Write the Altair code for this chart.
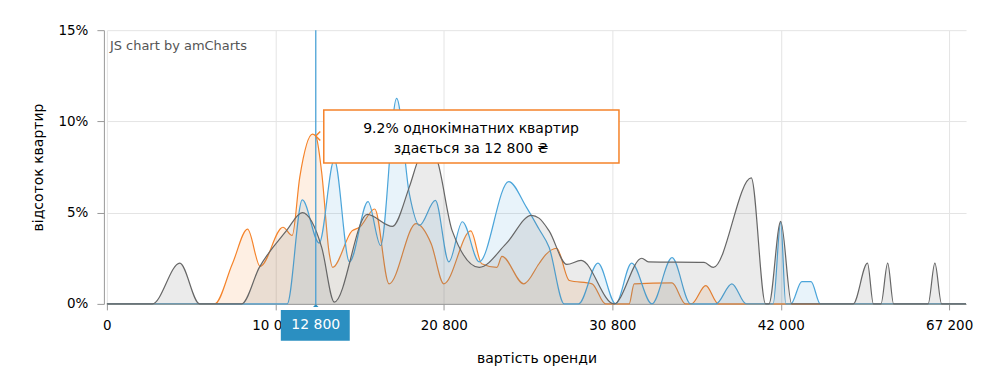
import altair as alt
import pandas as pd

# ---- data -------------------------------------------------------------
tick_pos = [0, 20, 40, 60, 80, 100]
tick_labels = ["0", "10 000", "20 800", "30 800", "42 000", "67 200"]

gray_bin = [0, 5.4, 8.65, 11.0, 16.0, 18.1, 21.3, 23.2, 25.5, 27.0, 30.9, 33.9, 35.9, 37.1, 38.3, 39.2,
            41.0, 44.2, 47.4, 50.4, 51.3, 52.5, 54.6, 56.3, 60.2, 63.5, 64.3, 70.9, 72.0, 76.5,
            78.2, 78.6, 80.0, 81.3, 88.6, 90.3, 91.0, 91.9, 92.7, 93.4, 97.5, 98.3, 99.1, 102]
gray_pct = [0, 0, 2.23, 0, 0, 2.0, 4.0, 5.0, 3.1, 0.1, 4.9, 4.25, 6.4, 8.05, 8.6, 7.9,
            4.0, 2.0, 3.3, 4.85, 4.7, 4.0, 2.16, 2.38, 0, 2.5, 2.3, 2.27, 2.0, 6.9,
            0, 0, 4.52, 0, 0, 2.23, 0, 0, 2.23, 0, 0, 2.23, 0, 0]

orange_bin = [0, 12.8, 14.9, 16.7, 18.2, 20.9, 22.0, 22.9, 24.4, 24.8, 25.5, 26.4, 26.8, 29.1, 30.0,
              31.8, 33.5, 36.7, 38.5, 40.0, 43.2, 44.5, 46.3, 46.9, 49.5, 51.3, 52.1, 53.4, 54.9,
              57.6, 59.2, 62.0, 62.6, 67.1, 68.7, 69.4, 71.1, 72.6, 102]
orange_pct = [0, 0, 2.2, 4.1, 2.05, 4.2, 3.75, 6.95, 9.3, 9.2, 7.2, 2.75, 2.0, 4.0, 4.2,
              5.2, 1.1, 4.4, 3.3, 1.1, 4.0, 2.2, 2.0, 2.6, 1.1, 2.2, 2.7, 3.05, 1.28,
              1.1, 0, 0, 1.1, 1.15, 0, 0, 1.0, 0, 0]

blue_bin = [0, 21.4, 23.2, 25.2, 27.0, 28.8, 31.0, 32.5, 34.4, 35.9, 37.1, 39.0, 40.6, 42.2, 44.2,
            47.7, 49.8, 51.3, 52.5, 54.3, 56.0, 58.3, 60.4, 62.3, 64.7, 67.1, 69.3, 72.3, 74.2,
            75.9, 79.1, 80.0, 80.6, 81.2, 82.5, 83.6, 84.7, 102]
blue_pct = [0, 0, 5.7, 3.33, 7.9, 2.3, 5.6, 3.2, 11.26, 6.05, 4.3, 5.67, 2.3, 4.5, 2.3,
            6.7, 5.3, 4.1, 3.1, 0, 0, 2.23, 0, 2.23, 0, 2.53, 0, 0, 1.1,
            0, 0, 4.48, 0, 0, 1.22, 1.22, 0, 0]

cursor_bin = 24.8
cursor_label = "12 800"
balloon_pct = 9.2
balloon_lines = ["9.2% однокімнатних квартир", "здається за 12 800 ₴"]
watermark = "JS chart by amCharts"

ORANGE = "#f5832a"
BLUE = "#4ba5da"
GRAY = "#666666"
CURSOR = "#3d9bd2"
LABELBOX = "#2b8fc1"
FONT = "DejaVu Sans"

# ---- scales / axes ----------------------------------------------------
label_expr = "[" + ",".join("'%s'" % t for t in tick_labels) + "][round(datum.value / 20)]"
xscale = alt.Scale(domain=[0, 102], nice=False, zero=False)
yscale = alt.Scale(domain=[0, 15], nice=False)
xaxis = alt.Axis(values=tick_pos, labelExpr=label_expr, title="вартість оренди",
                 grid=True, gridColor="#e4e4e4", domainColor="#999999", tickColor="#999999",
                 tickSize=6, labelPadding=9, labelFontSize=13.5, labelColor="#000000",
                 labelFlush=False, labelOverlap=False,
                 titleFontSize=14, titleFontWeight="normal", titleColor="#000000",
                 titlePadding=19, labelFont=FONT, titleFont=FONT)
yaxis = alt.Axis(values=[0, 5, 10, 15], labelExpr="datum.value + '%'", title="відсоток квартир",
                 grid=True, gridColor="#e4e4e4", domainColor="#999999", tickColor="#999999",
                 tickSize=7, offset=3, labelPadding=9, labelFontSize=13.5, labelColor="#000000",
                 labelFlush=False,
                 titleFontSize=14, titleFontWeight="normal", titleColor="#000000",
                 titlePadding=12, labelFont=FONT, titleFont=FONT)


def X():
    return alt.X("bin:Q", scale=xscale, axis=xaxis)


def Y(field="pct"):
    return alt.Y(field + ":Q", scale=yscale, axis=yaxis, stack=None)


def series(bins, pcts, color):
    df = pd.DataFrame({"bin": bins, "pct": pcts})
    return alt.Chart(df).mark_area(
        interpolate="monotone", color=color, fillOpacity=0.13,
        line={"color": color, "strokeWidth": 1.2},
    ).encode(x=X(), y=Y())


cur = pd.DataFrame({"bin": [cursor_bin], "pct": [balloon_pct], "base": [0.0],
                    "label": [cursor_label], "txt": ["\n".join(balloon_lines)]})
wm = pd.DataFrame({"bin": [0], "pct": [15.0], "txt": [watermark]})

rule = alt.Chart(cur).mark_rule(color=CURSOR, strokeWidth=1.2).encode(x=X())
lbl_box = alt.Chart(cur).mark_rect(color=LABELBOX, xOffset=-35, x2Offset=34, yOffset=6,
                                   y2Offset=37).encode(x=X(), x2="bin", y=Y("base"), y2="base")
lbl_tri = alt.Chart(cur).mark_point(shape="M 0 0 L 0.9 1 L -0.9 1 Z", size=36, filled=True,
                                    fill=LABELBOX, opacity=1).encode(x=X(), y=Y("base"))
lbl_txt = alt.Chart(cur).mark_text(color="white", fontSize=14, font=FONT, dy=21.5,
                                   baseline="middle").encode(x=X(), y=Y("base"), text="label:N")

bal_box = alt.Chart(cur).mark_rect(fill="white", stroke=ORANGE, strokeWidth=1.5, xOffset=8,
                                   x2Offset=303.5, yOffset=-26, y2Offset=27).encode(
    x=X(), x2="bin", y=Y(), y2="pct")
bal_tip = alt.Chart(cur).mark_point(shape="M 1 -1 L 0 0 L 1 1", size=81, filled=True, fill="white",
                                    stroke=ORANGE, strokeWidth=1.5, opacity=1).encode(x=X(), y=Y())
bal_txt = alt.Chart(cur).mark_text(fontSize=14, font=FONT, color="#000000", lineBreak="\n",
                                   lineHeight=21, dx=155.4, dy=-7.5, align="center",
                                   baseline="middle").encode(x=X(), y=Y(), text="txt:N")
wm_txt = alt.Chart(wm).mark_text(fontSize=13, font=FONT, color="#555555", align="left",
                                 baseline="middle", dx=3, dy=16).encode(x=X(), y=Y(), text="txt:N")

chart = alt.layer(
    series(orange_bin, orange_pct, ORANGE),
    series(blue_bin, blue_pct, BLUE),
    series(gray_bin, gray_pct, GRAY),
    wm_txt, rule, lbl_box, lbl_tri, lbl_txt, bal_box, bal_tip, bal_txt,
).properties(
    width=860, height=274,
    padding={"left": 99, "top": 22, "right": 30, "bottom": 66},
    autosize=alt.AutoSizeParams(type="none"),
).configure(font=FONT, view=alt.ViewConfig(strokeWidth=0, stroke="transparent"))

chart.save("out.html", embed_options={"renderer": "svg", "actions": False})
